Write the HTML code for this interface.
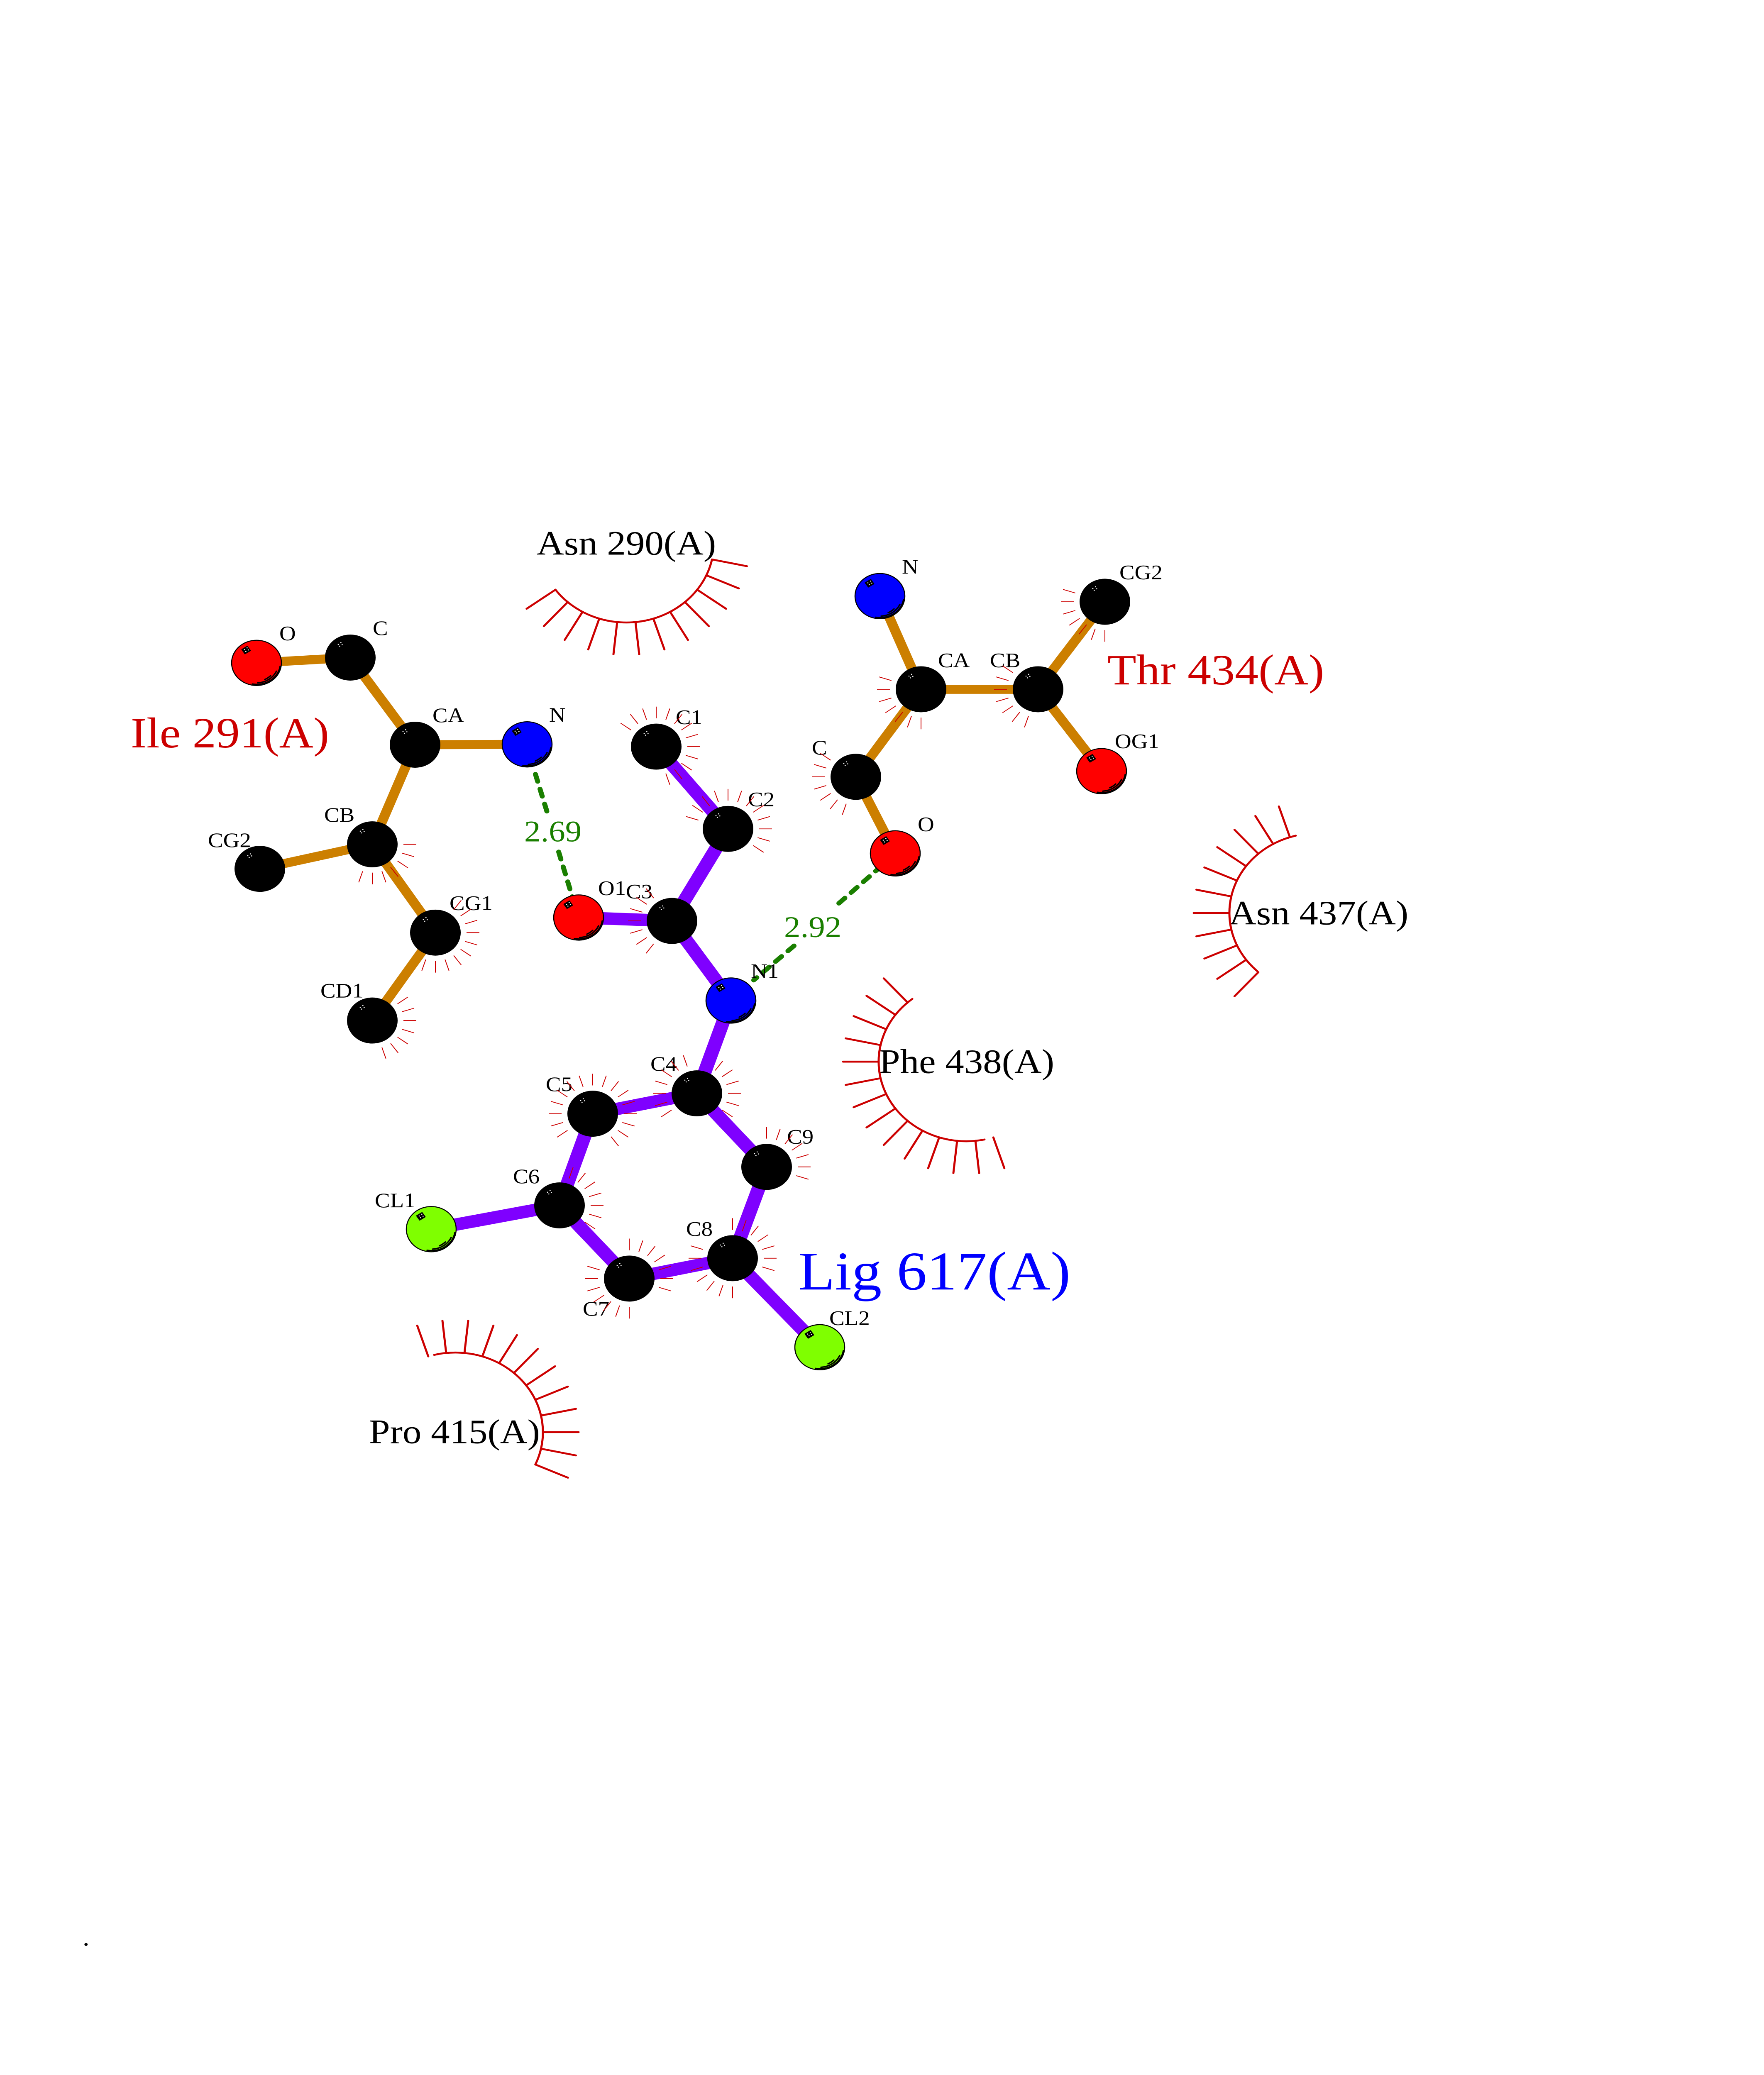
<!DOCTYPE html>
<html><head><meta charset="utf-8"><title>Ligand interaction diagram</title>
<style>
html,body{margin:0;padding:0;background:#fff;width:100%;height:100%;overflow:hidden}
svg{display:block;position:fixed;left:0;top:0;width:100vw;height:100vh;overflow:hidden}
text{font-family:"Liberation Serif","DejaVu Serif",serif}
</style></head>
<body>
<svg xmlns="http://www.w3.org/2000/svg" viewBox="0 0 4250 5500" preserveAspectRatio="none">
<defs>
<line id="t" x1="75" x2="106"/>
<line id="s" x1="211" x2="297"/>
<g id="w" fill="#fff"><circle cx="-29" cy="-35" r="1.4"/><circle cx="-22.7" cy="-39.7" r="1.4"/><circle cx="-19.7" cy="-34.3" r="1.4"/><circle cx="-25.7" cy="-30.3" r="1.4"/></g>
<g id="k"><circle r="61" fill="#000"/><use href="#w"/></g>
<g id="c"><circle r="60" stroke="#000" stroke-width="2.5"/>
<path d="M57 9A57 57 0 0 1-10 56M48 22A53 53 0 0 1 3 53M34 34A48 48 0 0 1 20 44" fill="none" stroke="#000" stroke-width="3.5" stroke-linecap="round"/>
<rect x="-33" y="-41" width="16" height="14" transform="rotate(-33 -25 -34)" fill="#000" stroke="#000" stroke-width="2" stroke-linejoin="round"/><use href="#w"/></g>
</defs>
<rect width="4250" height="5500" fill="#fff"/>

<!-- residue bonds -->
<path fill="none" stroke="#cc7f00" stroke-width="24" d="M618 1757L844 1743M844 1743L1000 1974M1000 1974L1270 1973M1000 1974L897 2238M897 2238L626 2303M897 2238L1049 2472M1049 2472L897 2705M2120 1580L2219 1827M2219 1827L2501 1827M2501 1827L2662 1595M2501 1827L2654 2044M2219 1827L2062 2059M2062 2059L2157 2262"/>
<!-- ligand bonds -->
<path fill="none" stroke="#7f00ff" stroke-width="33" d="M1581 1979L1754 2197M1754 2197L1619 2441M1619 2441L1394 2432M1619 2441L1761 2652M1761 2652L1679 2898M1679 2898L1428 2952M1428 2952L1348 3195M1348 3195L1039 3258M1348 3195L1516 3389M1516 3389L1765 3335M1765 3335L1847 3093M1847 3093L1679 2898M1765 3335L1975 3571"/>
<!-- hydrogen bonds -->
<path fill="none" stroke="#1a7f00" stroke-width="12" stroke-linecap="round" stroke-dasharray="20 21" d="M1290 2052L1318 2152M1346 2258L1394 2432M2124 2295L2010 2405M1913 2507L1816 2598"/>

<!-- labels -->
<g font-size="114" fill="#cc0000"><text x="315" y="1981">Ile 291(A)</text><text x="2668" y="1814">Thr 434(A)</text></g>
<text x="1923" y="3418" font-size="145" fill="#0000ff">Lig 617(A)</text>
<g font-size="91" fill="#000"><text x="1293" y="1470">Asn 290(A)</text><text x="2961" y="2450">Asn 437(A)</text><text x="2118" y="2844">Phe 438(A)</text><text x="889" y="3825">Pro 415(A)</text></g>
<g font-size="79" fill="#1a7f00"><text x="1263" y="2230">2.69</text><text x="1889" y="2484">2.92</text></g>
<g font-size="55" fill="#000">
<text x="673" y="1697">O</text><text x="898" y="1683">C</text><text x="1042" y="1914">CA</text><text x="1323" y="1913">N</text><text x="781" y="2178">CB</text><text x="501" y="2245">CG2</text><text x="1083" y="2412">CG1</text><text x="772" y="2644">CD1</text>
<text x="1441" y="2372">O1</text><text x="1508" y="2381">C3</text><text x="2173" y="1520">N</text><text x="2697" y="1535">CG2</text><text x="2260" y="1768">CA</text><text x="2385" y="1768">CB</text><text x="1956" y="2000">C</text><text x="2686" y="1983">OG1</text><text x="2211" y="2203">O</text>
<text x="1628" y="1919">C1</text><text x="1802" y="2137">C2</text><text x="1809" y="2592">N1</text><text x="1567" y="2838">C4</text><text x="1315" y="2892">C5</text><text x="1896" y="3031">C9</text><text x="1236" y="3136">C6</text><text x="903" y="3200">CL1</text><text x="1404" y="3487">C7</text><text x="1653" y="3275">C8</text><text x="1998" y="3512">CL2</text>
</g>
<text x="199" y="5157" font-size="66" fill="#000">.</text>

<!-- hydrophobic arcs -->
<g fill="none" stroke="#cc0000" stroke-width="5" stroke-linecap="round">
<path d="M1715.4 1483A211 211 0 0 1 1338.3 1563"/>
<g transform="translate(1509 1439)"><use href="#s" transform="rotate(12)"/><use href="#s" transform="rotate(24)"/><use href="#s" transform="rotate(36)"/><use href="#s" transform="rotate(48)"/><use href="#s" transform="rotate(60)"/><use href="#s" transform="rotate(72)"/><use href="#s" transform="rotate(84)"/><use href="#s" transform="rotate(96)"/><use href="#s" transform="rotate(108)"/><use href="#s" transform="rotate(120)"/><use href="#s" transform="rotate(132)"/><use href="#s" transform="rotate(144)"/></g>
<path d="M3029 2574A211 211 0 0 1 3122 2215"/>
<g transform="translate(3173 2420)"><use href="#s" transform="rotate(132)"/><use href="#s" transform="rotate(144)"/><use href="#s" transform="rotate(156)"/><use href="#s" transform="rotate(168)"/><use href="#s" transform="rotate(180)"/><use href="#s" transform="rotate(192)"/><use href="#s" transform="rotate(204)"/><use href="#s" transform="rotate(216)"/><use href="#s" transform="rotate(228)"/><use href="#s" transform="rotate(240)"/><use href="#s" transform="rotate(252)"/></g>
<path d="M2371.9 3020.4A211 211 0 0 1 2198.1 2647.7"/>
<g transform="translate(2328 2814)"><use href="#s" transform="rotate(72)"/><use href="#s" transform="rotate(84)"/><use href="#s" transform="rotate(96)"/><use href="#s" transform="rotate(108)"/><use href="#s" transform="rotate(120)"/><use href="#s" transform="rotate(132)"/><use href="#s" transform="rotate(144)"/><use href="#s" transform="rotate(156)"/><use href="#s" transform="rotate(168)"/><use href="#s" transform="rotate(180)"/><use href="#s" transform="rotate(192)"/><use href="#s" transform="rotate(204)"/><use href="#s" transform="rotate(216)"/><use href="#s" transform="rotate(228)"/></g>
<path d="M1046 3591.3A211 211 0 0 1 1289.8 3881.8"/>
<g transform="translate(1097 3796)"><use href="#s" transform="rotate(252)"/><use href="#s" transform="rotate(264)"/><use href="#s" transform="rotate(276)"/><use href="#s" transform="rotate(288)"/><use href="#s" transform="rotate(300)"/><use href="#s" transform="rotate(312)"/><use href="#s" transform="rotate(324)"/><use href="#s" transform="rotate(336)"/><use href="#s" transform="rotate(348)"/><use href="#s"/><use href="#s" transform="rotate(12)"/><use href="#s" transform="rotate(24)"/></g>
</g>

<!-- atom ticks -->
<g stroke="#cc0000" stroke-width="2" fill="none">
<g transform="translate(897 2238)"><use href="#t"/><use href="#t" transform="rotate(18)"/><use href="#t" transform="rotate(36)"/><use href="#t" transform="rotate(54)"/><use href="#t" transform="rotate(72)"/><use href="#t" transform="rotate(90)"/><use href="#t" transform="rotate(108)"/></g>
<g transform="translate(1049 2472)"><use href="#t" transform="rotate(306)"/><use href="#t" transform="rotate(324)"/><use href="#t" transform="rotate(342)"/><use href="#t"/><use href="#t" transform="rotate(18)"/><use href="#t" transform="rotate(36)"/><use href="#t" transform="rotate(54)"/><use href="#t" transform="rotate(72)"/><use href="#t" transform="rotate(90)"/><use href="#t" transform="rotate(108)"/></g>
<g transform="translate(897 2705)"><use href="#t" transform="rotate(324)"/><use href="#t" transform="rotate(342)"/><use href="#t"/><use href="#t" transform="rotate(18)"/><use href="#t" transform="rotate(36)"/><use href="#t" transform="rotate(54)"/><use href="#t" transform="rotate(72)"/></g>
<g transform="translate(1581 1979)"><use href="#t" transform="rotate(216)"/><use href="#t" transform="rotate(234)"/><use href="#t" transform="rotate(252)"/><use href="#t" transform="rotate(270)"/><use href="#t" transform="rotate(288)"/><use href="#t" transform="rotate(306)"/><use href="#t" transform="rotate(324)"/><use href="#t" transform="rotate(342)"/><use href="#t"/><use href="#t" transform="rotate(18)"/><use href="#t" transform="rotate(36)"/><use href="#t" transform="rotate(54)"/><use href="#t" transform="rotate(72)"/></g>
<g transform="translate(1754 2197)"><use href="#t" transform="rotate(198)"/><use href="#t" transform="rotate(216)"/><use href="#t" transform="rotate(234)"/><use href="#t" transform="rotate(252)"/><use href="#t" transform="rotate(270)"/><use href="#t" transform="rotate(288)"/><use href="#t" transform="rotate(306)"/><use href="#t" transform="rotate(324)"/><use href="#t" transform="rotate(342)"/><use href="#t"/><use href="#t" transform="rotate(18)"/><use href="#t" transform="rotate(36)"/></g>
<g transform="translate(1619 2441)"><use href="#t" transform="rotate(126)"/><use href="#t" transform="rotate(144)"/><use href="#t" transform="rotate(162)"/><use href="#t" transform="rotate(180)"/><use href="#t" transform="rotate(198)"/><use href="#t" transform="rotate(216)"/><use href="#t" transform="rotate(234)"/></g>
<g transform="translate(2219 1827)"><use href="#t" transform="rotate(90)"/><use href="#t" transform="rotate(108)"/><use href="#t" transform="rotate(126)"/><use href="#t" transform="rotate(144)"/><use href="#t" transform="rotate(162)"/><use href="#t" transform="rotate(180)"/><use href="#t" transform="rotate(198)"/></g>
<g transform="translate(2501 1827)"><use href="#t" transform="rotate(108)"/><use href="#t" transform="rotate(126)"/><use href="#t" transform="rotate(144)"/><use href="#t" transform="rotate(162)"/><use href="#t" transform="rotate(180)"/><use href="#t" transform="rotate(198)"/><use href="#t" transform="rotate(216)"/></g>
<g transform="translate(2662 1595)"><use href="#t" transform="rotate(90)"/><use href="#t" transform="rotate(108)"/><use href="#t" transform="rotate(126)"/><use href="#t" transform="rotate(144)"/><use href="#t" transform="rotate(162)"/><use href="#t" transform="rotate(180)"/><use href="#t" transform="rotate(198)"/></g>
<g transform="translate(2062 2059)"><use href="#t" transform="rotate(108)"/><use href="#t" transform="rotate(126)"/><use href="#t" transform="rotate(144)"/><use href="#t" transform="rotate(162)"/><use href="#t" transform="rotate(180)"/><use href="#t" transform="rotate(198)"/><use href="#t" transform="rotate(216)"/></g>
<g transform="translate(1679 2898)"><use href="#t" transform="rotate(144)"/><use href="#t" transform="rotate(162)"/><use href="#t" transform="rotate(180)"/><use href="#t" transform="rotate(198)"/><use href="#t" transform="rotate(216)"/><use href="#t" transform="rotate(234)"/><use href="#t" transform="rotate(252)"/><use href="#t" transform="rotate(306)"/><use href="#t" transform="rotate(324)"/><use href="#t" transform="rotate(342)"/><use href="#t"/><use href="#t" transform="rotate(18)"/><use href="#t" transform="rotate(36)"/></g>
<g transform="translate(1428 2952)"><use href="#t" transform="rotate(144)"/><use href="#t" transform="rotate(162)"/><use href="#t" transform="rotate(180)"/><use href="#t" transform="rotate(198)"/><use href="#t" transform="rotate(216)"/><use href="#t" transform="rotate(234)"/><use href="#t" transform="rotate(252)"/><use href="#t" transform="rotate(270)"/><use href="#t" transform="rotate(288)"/><use href="#t" transform="rotate(306)"/><use href="#t" transform="rotate(324)"/><use href="#t" transform="rotate(342)"/><use href="#t"/><use href="#t" transform="rotate(18)"/><use href="#t" transform="rotate(36)"/><use href="#t" transform="rotate(54)"/></g>
<g transform="translate(1348 3195)"><use href="#t" transform="rotate(288)"/><use href="#t" transform="rotate(306)"/><use href="#t" transform="rotate(324)"/><use href="#t" transform="rotate(342)"/><use href="#t"/><use href="#t" transform="rotate(18)"/><use href="#t" transform="rotate(36)"/></g>
<g transform="translate(1516 3389)"><use href="#t" transform="rotate(90)"/><use href="#t" transform="rotate(108)"/><use href="#t" transform="rotate(126)"/><use href="#t" transform="rotate(144)"/><use href="#t" transform="rotate(162)"/><use href="#t" transform="rotate(180)"/><use href="#t" transform="rotate(198)"/><use href="#t" transform="rotate(270)"/><use href="#t" transform="rotate(288)"/><use href="#t" transform="rotate(306)"/><use href="#t" transform="rotate(324)"/><use href="#t" transform="rotate(342)"/><use href="#t"/><use href="#t" transform="rotate(18)"/></g>
<g transform="translate(1765 3335)"><use href="#t" transform="rotate(90)"/><use href="#t" transform="rotate(108)"/><use href="#t" transform="rotate(126)"/><use href="#t" transform="rotate(144)"/><use href="#t" transform="rotate(162)"/><use href="#t" transform="rotate(180)"/><use href="#t" transform="rotate(198)"/><use href="#t" transform="rotate(270)"/><use href="#t" transform="rotate(288)"/><use href="#t" transform="rotate(306)"/><use href="#t" transform="rotate(324)"/><use href="#t" transform="rotate(342)"/><use href="#t"/><use href="#t" transform="rotate(18)"/></g>
<g transform="translate(1847 3093)"><use href="#t" transform="rotate(270)"/><use href="#t" transform="rotate(288)"/><use href="#t" transform="rotate(306)"/><use href="#t" transform="rotate(324)"/><use href="#t" transform="rotate(342)"/><use href="#t"/><use href="#t" transform="rotate(18)"/></g>
</g>

<!-- atoms -->
<use href="#c" transform="translate(618 1757)" fill="#ff0000"/>
<use href="#k" transform="translate(844 1743)"/>
<use href="#k" transform="translate(1000 1974)"/>
<use href="#c" transform="translate(1270 1973)" fill="#0000ff"/>
<use href="#k" transform="translate(897 2238)"/>
<use href="#k" transform="translate(626 2303)"/>
<use href="#k" transform="translate(1049 2472)"/>
<use href="#k" transform="translate(897 2705)"/>
<use href="#c" transform="translate(2120 1580)" fill="#0000ff"/>
<use href="#k" transform="translate(2662 1595)"/>
<use href="#k" transform="translate(2219 1827)"/>
<use href="#k" transform="translate(2501 1827)"/>
<use href="#k" transform="translate(2062 2059)"/>
<use href="#c" transform="translate(2654 2044)" fill="#ff0000"/>
<use href="#c" transform="translate(2157 2262)" fill="#ff0000"/>
<use href="#k" transform="translate(1581 1979)"/>
<use href="#k" transform="translate(1754 2197)"/>
<use href="#c" transform="translate(1394 2432)" fill="#ff0000"/>
<use href="#k" transform="translate(1619 2441)"/>
<use href="#c" transform="translate(1761 2652)" fill="#0000ff"/>
<use href="#k" transform="translate(1679 2898)"/>
<use href="#k" transform="translate(1428 2952)"/>
<use href="#k" transform="translate(1847 3093)"/>
<use href="#k" transform="translate(1348 3195)"/>
<use href="#c" transform="translate(1039 3258)" fill="#7fff00"/>
<use href="#k" transform="translate(1516 3389)"/>
<use href="#k" transform="translate(1765 3335)"/>
<use href="#c" transform="translate(1975 3571)" fill="#7fff00"/>
</svg>
</body></html>
